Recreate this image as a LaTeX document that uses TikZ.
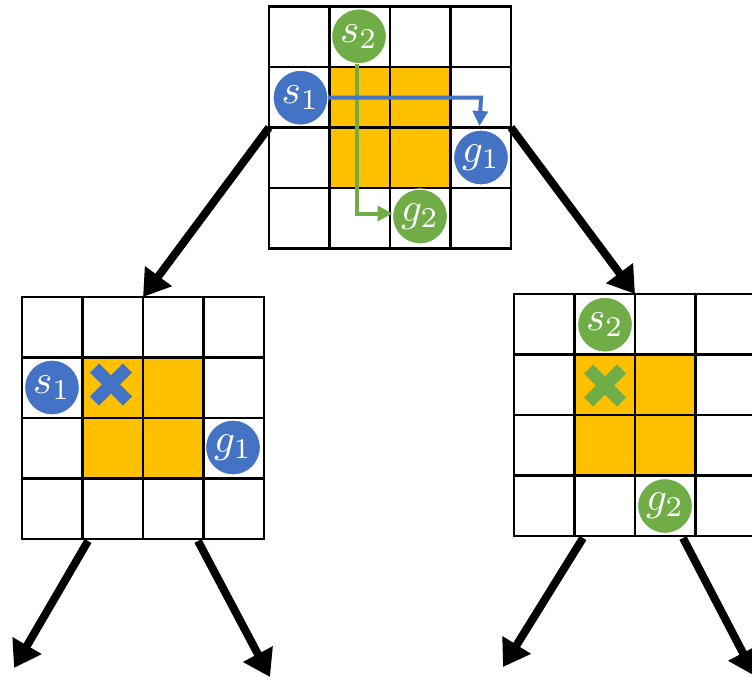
\documentclass[tikz,border=0pt]{standalone}
\usepackage{graphicx}
\usetikzlibrary{arrows.meta,calc}

\definecolor{cellorange}{HTML}{FFC000}
\definecolor{agentblue}{HTML}{4472C4}
\definecolor{agentgreen}{HTML}{70AD47}

\tikzset{
  board/.style={minimum size=242pt, inner sep=0pt, outer sep=0pt},
  gridline/.style={line width=2.2pt, black, line cap=rect},
  agent/.style={circle, minimum size=55pt, inner sep=0pt, outer sep=0pt,
    draw=white, line width=1.2pt, text=white},
  treearrow/.style={line width=8pt, black, -{Triangle[length=26pt,width=32pt]}},
  route/.style={line width=4pt, -{Triangle[length=15pt,width=15pt]}},
  blocked/.style={line width=13pt}
}

% agent label: enlarged math symbol
\newcommand{\aglabel}[1]{\scalebox{4.1}{$#1$}}

% 4x4 board: orange 2x2 obstacle block in the middle, then the grid lines
\newcommand{\drawboard}[1]{%
  \fill[cellorange] ($(#1.center)+(-60.5,-60.5)$) rectangle ($(#1.center)+(60.5,60.5)$);
  \foreach \k in {0,...,4}{
    \draw[gridline] ($(#1.north west)+(\k*60.5,0)$) -- ++(0,242);
    \draw[gridline] ($(#1.north west)+(0,\k*60.5)$) -- ++(242,0);
  }%
}

\begin{document}
\begin{tikzpicture}[x=1pt, y=-1pt]
  \useasboundingbox (0,0) rectangle (752,677);
  \clip (0,0) rectangle (752,677);
  \fill[white] (0,0) rectangle (752,677);

  % boards
  \node[board] (T) at (390,127.5) {};
  \node[board] (L) at (143,418) {};
  \node[board] (R) at (635,415) {};
  \drawboard{T}
  \drawboard{L}
  \drawboard{R}

  % conflict marks
  \coordinate (xL) at (111,384.5);
  \coordinate (xR) at (605,385.5);
  \draw[blocked, agentblue] ($(xL)+(-16.5,-16.5)$) -- ($(xL)+(16.5,16.5)$);
  \draw[blocked, agentblue] ($(xL)+(-16.5,16.5)$) -- ($(xL)+(16.5,-16.5)$);
  \draw[blocked, agentgreen] ($(xR)+(-16.5,-16.5)$) -- ($(xR)+(16.5,16.5)$);
  \draw[blocked, agentgreen] ($(xR)+(-16.5,16.5)$) -- ($(xR)+(16.5,-16.5)$);

  % agents on the root board
  \node[agent, fill=agentblue] (s1) at (300.5,97.7) {\aglabel{s_1}};
  \node[agent, fill=agentblue] (g1) at (481,157.5) {\aglabel{g_1}};
  \node[agent, fill=agentgreen] (s2) at (359,36.3) {\aglabel{s_2}};
  \node[agent, fill=agentgreen] (g2) at (420,216.5) {\aglabel{g_2}};

  % agents on the child boards
  \node[agent, fill=agentblue] (s1L) at (52,387.5) {\aglabel{s_1}};
  \node[agent, fill=agentblue] (g1L) at (233,447.5) {\aglabel{g_1}};
  \node[agent, fill=agentgreen] (s2R) at (605,324.7) {\aglabel{s_2}};
  \node[agent, fill=agentgreen] (g2R) at (665,506) {\aglabel{g_2}};

  % planned routes (blue crosses over green)
  \draw[route, agentgreen] ([xshift=-1.7pt]s2.south) |- ([yshift=3pt]g2.west);
  \draw[route, agentblue] (s1.east) -- (s1.east -| g1.north) -- ([xshift=-1.5pt,yshift=4pt]g1.north);

  % tree branches
  \draw[treearrow] (T.west) -- (L.north);
  \draw[treearrow] (T.east) -- (R.north);

  \coordinate (LLend) at (14,668);
  \coordinate (LRend) at (270,677);
  \coordinate (RLend) at (503,667);
  \coordinate (RRend) at (755,676);
  \draw[treearrow] ([xshift=66pt,yshift=-2pt]L.south west) -- (LLend);
  \draw[treearrow] ([xshift=176pt,yshift=-2pt]L.south west) -- (LRend);
  \draw[treearrow] ([xshift=69pt,yshift=-2pt]R.south west) -- (RLend);
  \draw[treearrow] ([xshift=169pt,yshift=-2pt]R.south west) -- (RRend);
\end{tikzpicture}
\end{document}
